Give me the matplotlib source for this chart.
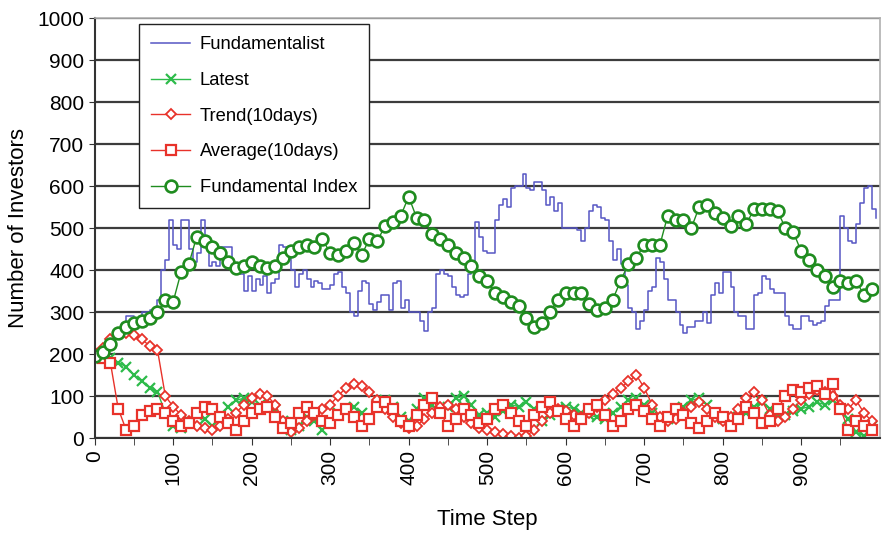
import numpy as np
from matplotlib import pyplot as plt

plt.rcParams['font.family'] = ['Liberation Sans', 'DejaVu Sans']

# Time steps (blue line sampled every 5 steps, the other series every 10)
steps_fund = np.arange(0, 1000, 5)
steps = np.arange(0, 1000, 10)

fundamentalist = [
    200, 200, 205, 215, 230, 245, 260, 275, 290, 290,
    285, 285, 300, 300, 305, 300, 330, 400, 425, 520,
    460, 450, 520, 520, 450, 420, 440, 520, 470, 410,
    420, 410, 455, 455, 455, 400, 400, 390, 350, 385,
    350, 380, 365, 385, 345, 370, 380, 460, 455, 430,
    400, 360, 390, 400, 380, 360, 375, 370, 355, 355,
    365, 390, 395, 360, 345, 300, 290, 350, 375, 370,
    320, 305, 325, 340, 340, 305, 370, 375, 310, 330,
    300, 300, 300, 280, 255, 300, 310, 390, 400, 390,
    385, 360, 340, 335, 340, 390, 420, 515, 480, 445,
    440, 440, 520, 555, 570, 550, 595, 600, 600, 630,
    595, 590, 610, 610, 590, 555, 575, 540, 560, 500,
    500, 500, 500, 495, 470, 500, 540, 555, 550, 525,
    520, 470, 425, 450, 415, 365, 310, 300, 260, 280,
    305, 350, 360, 430, 420, 380, 330, 330, 300, 270,
    250, 265, 265, 280, 280, 300, 275, 340, 370, 345,
    395, 395, 360, 300, 290, 290, 260, 260, 340, 345,
    385, 380, 355, 345, 345, 345, 290, 270, 260, 260,
    290, 290, 280, 270, 273, 280, 315, 330, 330, 330,
    530, 500, 470, 465, 510, 560, 595, 600, 545, 524,
]

latest = [
    200, 195, 190, 180, 170, 150, 135, 120, 110, 60,
    30, 25, 40, 55, 45, 30, 50, 75, 90, 95,
    85, 80, 90, 70, 40, 20, 30, 50, 40, 20,
    35, 60, 70, 75, 60, 45, 80, 90, 75, 50,
    40, 70, 95, 80, 60, 75, 95, 100, 80, 55,
    60, 50, 65, 80, 75, 85, 70, 40, 55, 70,
    75, 70, 60, 55, 50, 45, 60, 75, 90, 95,
    80, 60, 50, 45, 60, 75, 90, 95, 80, 60,
    45, 40, 50, 60, 75, 85, 70, 55, 55, 65,
    70, 75, 85, 80, 90, 70, 45, 15, 5, 30,
]

trend = [
    200, 215, 235, 250, 250, 245, 235, 220, 210, 100,
    75, 55, 40, 30, 25, 20, 30, 45, 60, 80,
    95, 105, 100, 80, 40, 15, 25, 40, 55, 70,
    80, 100, 120, 130, 125, 110, 90, 70, 50, 35,
    25, 30, 45, 60, 75, 80, 70, 50, 35, 25,
    20, 15, 10, 5, 0, 5, 20, 40, 60, 70,
    65, 55, 50, 60, 75, 90, 105, 120, 135, 150,
    120, 80, 50, 40, 45, 60, 75, 85, 70, 50,
    40, 50, 70, 95, 110, 90, 55, 40, 50, 70,
    90, 105, 115, 110, 100, 80, 70, 90, 60, 40,
]

average = [
    200, 190, 180, 70, 20, 30, 55, 65, 70, 60,
    40, 30, 35, 60, 75, 70, 50, 35, 20, 40,
    60, 70, 75, 50, 25, 35, 60, 75, 60, 40,
    35, 55, 70, 50, 30, 45, 75, 85, 70, 40,
    30, 55, 80, 95, 60, 30, 45, 70, 55, 35,
    45, 70, 80, 60, 40, 30, 55, 75, 85, 65,
    45, 30, 45, 70, 80, 55, 30, 40, 70, 80,
    65, 45, 30, 50, 70, 55, 35, 25, 40, 60,
    50, 30, 45, 75, 60, 35, 40, 70, 100, 115,
    110, 120, 125, 105, 130, 70, 20, 40, 30, 20,
]

fundamental_index = [
    195, 205, 225, 250, 265, 275, 280, 285, 300, 330,
    325, 395, 415, 480, 470, 455, 440, 420, 405, 410,
    420, 410, 405, 410, 430, 445, 455, 460, 455, 475,
    440, 435, 445, 465, 435, 475, 470, 505, 515, 530,
    575, 525, 520, 485, 475, 460, 440, 430, 410, 385,
    375, 345, 335, 325, 315, 285, 265, 275, 300, 330,
    345, 345, 345, 320, 305, 310, 330, 375, 415, 430,
    460, 460, 460, 530, 520, 520, 500, 550, 555, 535,
    525, 505, 530, 510, 545, 545, 545, 540, 500, 490,
    445, 425, 400, 385, 360, 375, 370, 375, 340, 355,
]

fig, ax = plt.subplots(figsize=(8.85, 5.33), dpi=100)
fig.subplots_adjust(left=0.107, right=0.994, bottom=0.178, top=0.966)

blue = '#5656c4'
light_green = '#2dbb4a'
red = '#e8322a'
dark_green = '#1f8c1f'

ax.plot(steps_fund, fundamentalist, color=blue, lw=1.1, drawstyle='steps-post',
        label='Fundamentalist')
ax.plot(steps, latest, color=light_green, lw=1.0, marker='x', ms=7, mew=1.6,
        label='Latest')
ax.plot(steps, trend, color=red, lw=1.0, marker='D', ms=5, mfc='white', mew=1.3,
        label='Trend(10days)')
ax.plot(steps, average, color=red, lw=1.0, marker='s', ms=7.5, mfc='white', mew=1.6,
        label='Average(10days)')
ax.plot(steps, fundamental_index, color=dark_green, lw=1.0, marker='o', ms=8.5,
        mfc='white', mew=1.9, label='Fundamental Index')

# Format plot
ax.set_xlim(0, 1000)
ax.set_ylim(0, 1000)
ax.set_yticks(range(0, 1001, 100))
ax.set_xticks(range(0, 1000, 100))
ax.set_xticks(range(50, 1000, 100), minor=True)
ax.tick_params(axis='x', which='both', direction='out', length=5, labelsize=15,
               labelrotation=90, color='#333333')
ax.tick_params(axis='y', direction='out', length=4, labelsize=15, color='#333333')
ax.yaxis.grid(True, color='#3c3c3c', lw=1.6)
ax.set_axisbelow(True)

for side in ['left', 'bottom']:
    ax.spines[side].set_color('#333333')
    ax.spines[side].set_linewidth(1.5)
for side in ['top', 'right']:
    ax.spines[side].set_color('#b0b0b0')
    ax.spines[side].set_linewidth(1.2)

ax.set_xlabel('Time Step', fontsize=16, labelpad=17)
ax.set_ylabel('Number of Investors', fontsize=16, labelpad=6)

leg = ax.legend(loc='upper left', bbox_to_anchor=(0.057, 0.985), fontsize=13.2,
                frameon=True, fancybox=False, edgecolor='#222222', framealpha=1,
                handlelength=2.1, handletextpad=0.55, labelspacing=1.02,
                borderpad=0.65, borderaxespad=0)
leg.get_frame().set_linewidth(1.0)

fig.savefig('out.png', dpi=100)
